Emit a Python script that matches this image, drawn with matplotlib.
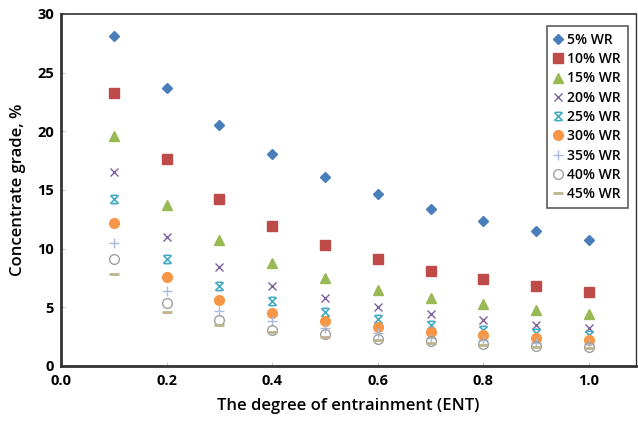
import matplotlib
matplotlib.use("Agg")
import matplotlib.pyplot as plt
from matplotlib.path import Path

plt.rcParams['font.family'] = ['Open Sans', 'DejaVu Sans']

ent = [0.1, 0.2, 0.3, 0.4, 0.5, 0.6, 0.7, 0.8, 0.9, 1.0]
labels = ['5% WR', '10% WR', '15% WR', '20% WR', '25% WR', '30% WR', '35% WR', '40% WR', '45% WR']
wr5 = [28.1, 23.7, 20.5, 18.1, 16.1, 14.7, 13.4, 12.4, 11.5, 10.7]
wr10 = [23.3, 17.6, 14.2, 11.9, 10.3, 9.1, 8.1, 7.4, 6.8, 6.3]
wr15 = [19.6, 13.7, 10.7, 8.8, 7.5, 6.5, 5.8, 5.3, 4.8, 4.4]
wr20 = [16.5, 11.0, 8.4, 6.8, 5.8, 5.0, 4.4, 3.9, 3.5, 3.2]
wr25 = [14.2, 9.1, 6.8, 5.5, 4.6, 4.0, 3.5, 3.1, 2.8, 2.6]
wr30 = [12.2, 7.6, 5.6, 4.5, 3.8, 3.3, 2.9, 2.6, 2.4, 2.2]
wr35 = [10.5, 6.4, 4.7, 3.8, 3.2, 2.8, 2.4, 2.2, 2.0, 1.9]
wr40 = [9.1, 5.4, 3.9, 3.1, 2.7, 2.3, 2.1, 1.9, 1.7, 1.6]
wr45 = [7.8, 4.6, 3.5, 2.9, 2.5, 2.2, 2.0, 1.8, 1.6, 1.5]
series = [wr5, wr10, wr15, wr20, wr25, wr30, wr35, wr40, wr45]

star = Path([(-1, -1), (1, 1), (-1, 1), (1, -1), (-0.7, 1), (0.7, 1), (-0.7, -1), (0.7, -1)],
            [Path.MOVETO, Path.LINETO, Path.MOVETO, Path.LINETO,
             Path.MOVETO, Path.LINETO, Path.MOVETO, Path.LINETO])

styles = [
    dict(marker='D', ms=5, color='#4A7EBB', mec='#4A7EBB'),
    dict(marker='s', ms=7.5, color='#BE4B48', mec='#BE4B48'),
    dict(marker='^', ms=7, color='#98B954', mec='#98B954'),
    dict(marker='x', ms=6, color='#7D60A0', mec='#7D60A0', mew=1.0),
    dict(marker=star, ms=6, color='#46AAC5', mec='#46AAC5', mew=1.2),
    dict(marker='o', ms=7, color='#F79646', mec='#F79646'),
    dict(marker='+', ms=7, color='#A9BCDB', mec='#A9BCDB', mew=1.0),
    dict(marker='o', ms=7, color='none', mfc='none', mec='#A0A0A0', mew=1.0),
    dict(marker='_', ms=7, color='#C4BD97', mec='#BDB38F', mew=2.0),
]

fig = plt.figure(figsize=(6.38, 4.24), dpi=100)
ax = fig.add_axes([0.0956, 0.1368, 0.9013, 0.8302])

for lab, ys, st in zip(labels, series, styles):
    ax.plot(ent, ys, linestyle='none', label=lab, **st)

ax.set_xlim(0, 1.089)
ax.set_ylim(0, 30)
ax.set_xticks([0.0, 0.2, 0.4, 0.6, 0.8, 1.0])
ax.set_xticklabels(['0.0', '0.2', '0.4', '0.6', '0.8', '1.0'])
ax.set_yticks([0, 5, 10, 15, 20, 25, 30])
ax.tick_params(axis='both', direction='in', length=3, color='#C8C8C8', labelsize=10.5)
ax.tick_params(axis='x', pad=6)
ax.tick_params(axis='y', pad=5)
for t in ax.get_xticklabels() + ax.get_yticklabels():
    t.set_fontweight('bold')

ax.spines['left'].set_linewidth(2.0)
ax.spines['bottom'].set_linewidth(2.0)
ax.spines['top'].set_linewidth(1.2)
ax.spines['right'].set_linewidth(1.0)
for s in ax.spines.values():
    s.set_color('#333333')

ax.set_xlabel('The degree of entrainment (ENT)', fontsize=12, fontweight='semibold', labelpad=7)
ax.set_ylabel('Concentrate grade, %', fontsize=12, fontweight='semibold', labelpad=8)

leg = ax.legend(loc='upper right', bbox_to_anchor=(0.986, 0.966), borderaxespad=0,
                frameon=True, fancybox=False,
                edgecolor='#333333', handlelength=0.6, handletextpad=0.4,
                labelspacing=0.38, borderpad=0.5, prop={'weight': 'semibold', 'size': 10})
leg.get_frame().set_linewidth(1.2)

fig.savefig('out.png', dpi=100)
